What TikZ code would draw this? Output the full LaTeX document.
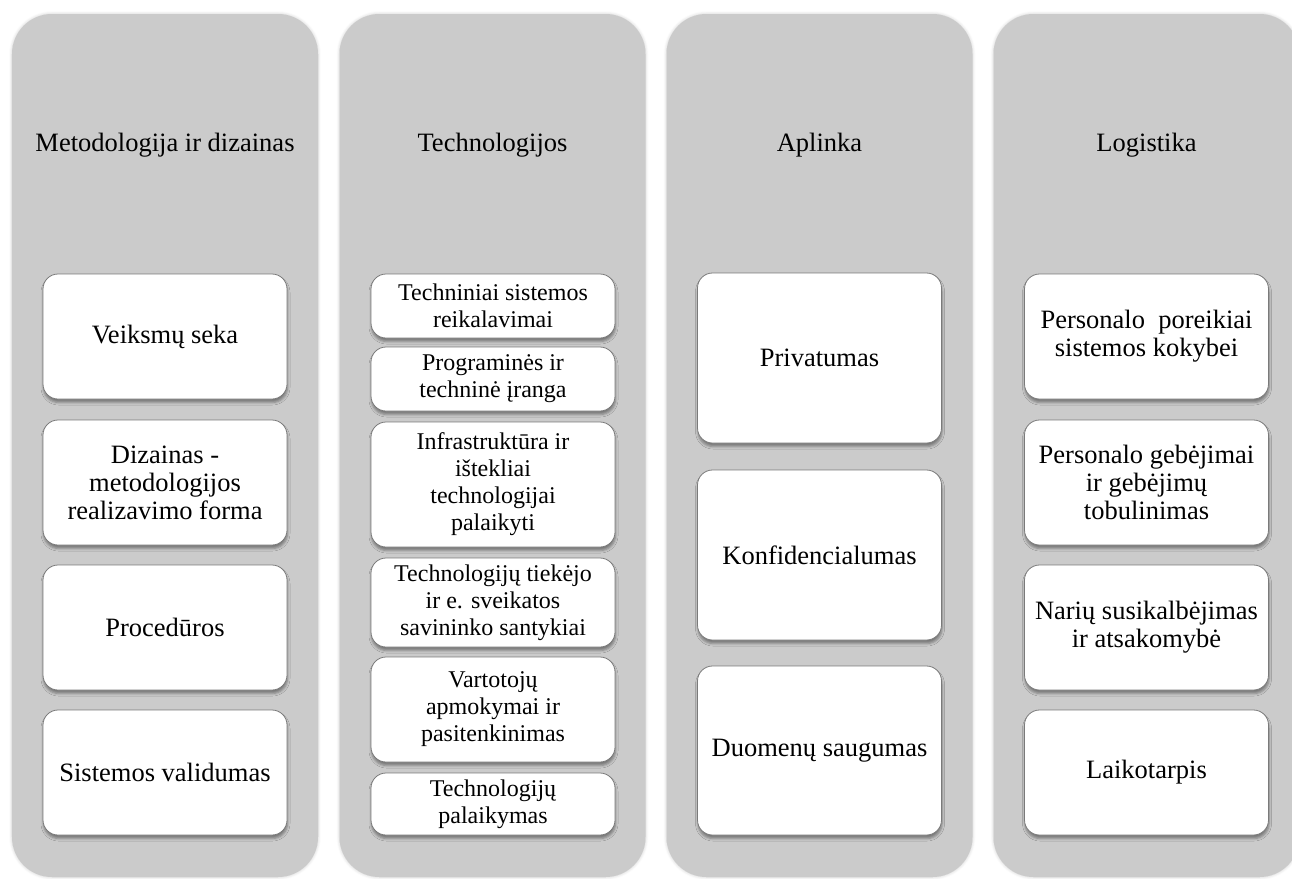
\documentclass[tikz,border=0pt]{standalone}
\usepackage{fontspec}
\setmainfont{Liberation Serif}
\usetikzlibrary{shadows,shadows.blur}
\definecolor{colfill}{HTML}{CBCBCB}
\definecolor{boxline}{HTML}{7A7A7A}
\tikzset{
  colbox/.style={fill=colfill, draw=none, rounded corners=40pt, minimum width=306pt, minimum height=863pt, inner sep=0pt,
    blur shadow={shadow xshift=0pt, shadow yshift=0pt, shadow blur radius=3pt, shadow opacity=20}},
  head/.style={font=\fontsize{26.5}{28}\selectfont, align=center, inner sep=0pt},
  ibox/.style={fill=white, draw=boxline, line width=0.8pt, rounded corners=15pt, minimum width=244pt, inner sep=0pt,
    align=center, font=\fontsize{26.5}{28}\selectfont,
    blur shadow={shadow xshift=0.5pt, shadow yshift=-3.5pt, shadow blur radius=2.5pt, shadow opacity=40}},
  sbox/.style={ibox, font=\fontsize{24}{27}\selectfont}
}
\begin{document}
\begin{tikzpicture}[x=1pt, y=-1pt]
\useasboundingbox (0,0) rectangle (1292,878);
% columns
\node[colbox] (c1) at (165,445.5) {};
\node[colbox] (c2) at (492.5,445.5) {};
\node[colbox] (c3) at (819.5,445.5) {};
\node[colbox] (c4) at (1146.5,445.5) {};
% headers
\node[head] (h1) at (165,145) {Metodologija ir dizainas};
\node[head] (h2) at (492.5,145) {Technologijos};
\node[head] (h3) at (819.5,145) {Aplinka};
\node[head] (h4) at (1146.5,145) {Logistika};
% column 1
\node[ibox, minimum height=125pt] (a1) at (165,336.5) {Veiksmų seka};
\node[ibox, minimum height=125pt] (a2) at (165,482.5) {Dizainas -\\metodologijos\\realizavimo forma};
\node[ibox, minimum height=125pt] (a3) at (165,627.5) {Procedūros};
\node[ibox, minimum height=125pt] (a4) at (165,772.5) {Sistemos validumas};
% column 2
\node[sbox, minimum height=64pt] (b1) at (493,306) {Techniniai sistemos\\reikalavimai};
\node[sbox, minimum height=64pt] (b2) at (493,379) {Programinės ir\\techninė įranga};
\node[sbox, minimum height=125pt] (b3) at (493,484.5) {Infrastruktūra ir\\ištekliai\\technologijai\\palaikyti};
\node[sbox, minimum height=89pt] (b4) at (493,602.5) {Technologijų tiekėjo\\ir e. sveikatos\\savininko santykiai};
\node[sbox, minimum height=105pt] (b5) at (493,709.5) {Vartotojų\\apmokymai ir\\pasitenkinimas};
\node[sbox, minimum height=62pt] (b6) at (493,804) {Technologijų\\palaikymas};
% column 3
\node[ibox, minimum height=170pt] (d1) at (819.5,358) {Privatumas};
\node[ibox, minimum height=170pt] (d2) at (819.5,555) {Konfidencialumas};
\node[ibox, minimum height=169pt] (d3) at (819.5,750.5) {Duomenų saugumas};
% column 4
\node[ibox, minimum height=125pt] (e1) at (1146.5,336.5) {Personalo\ \ poreikiai\\sistemos kokybei};
\node[ibox, minimum height=125pt] (e2) at (1146.5,482.5) {Personalo gebėjimai\\ir gebėjimų\\tobulinimas};
\node[ibox, minimum height=125pt] (e3) at (1146.5,627.5) {Narių susikalbėjimas\\ir atsakomybė};
\node[ibox, minimum height=125pt] (e4) at (1146.5,772.5) {Laikotarpis};
\end{tikzpicture}
\end{document}
